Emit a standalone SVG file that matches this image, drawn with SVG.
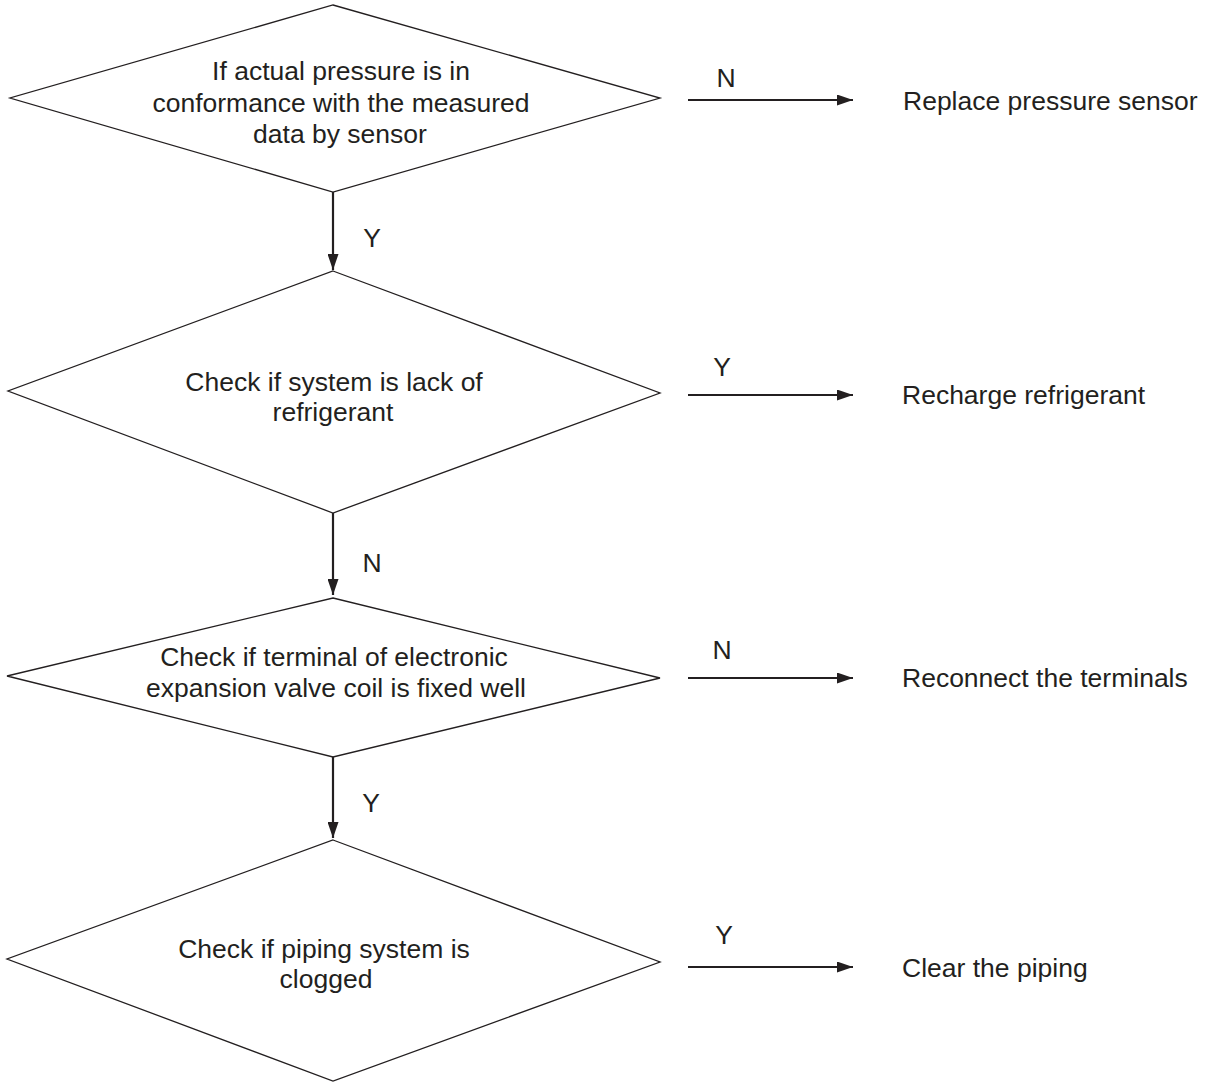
<svg xmlns="http://www.w3.org/2000/svg" width="1208" height="1083" viewBox="0 0 1208 1083">
<defs>
<marker id="ah" viewBox="0 0 16 11" refX="16" refY="5.5" markerWidth="16" markerHeight="11" markerUnits="userSpaceOnUse" orient="auto">
<path d="M0,0 L16,5.5 L0,11 z" fill="#231f20"/>
</marker>
<style>
.d{fill:#fff;stroke:#231f20;stroke-width:1.3}
.t{font-family:"Liberation Sans",Arial,sans-serif;font-size:26.5px;fill:#231f20;text-anchor:middle}
.r{font-family:"Liberation Sans",Arial,sans-serif;font-size:26.5px;fill:#231f20}
.c{stroke:#231f20;stroke-width:2.2;fill:none}
</style>
</defs>
<rect width="1208" height="1083" fill="#fff"/>
<g id="d1">
<polygon class="d" points="333,5 660,98 333,192 10,98"/>
<text class="t" x="341" y="80">If actual pressure is in</text>
<text class="t" x="341" y="112">conformance with the measured</text>
<text class="t" x="340" y="143">data by sensor</text>
</g>
<g id="d2">
<polygon class="d" points="333,271 660,393 333,513 8,391"/>
<text class="t" x="334" y="391">Check if system is lack of</text>
<text class="t" x="333" y="421">refrigerant</text>
</g>
<g id="d3">
<polygon class="d" points="333,598 660,678 333,757 7,676"/>
<text class="t" x="334" y="666">Check if terminal of electronic</text>
<text class="t" x="336" y="697">expansion valve coil is fixed well</text>
</g>
<g id="d4">
<polygon class="d" points="333,840 660,962 333,1081 7,959"/>
<text class="t" x="324" y="958">Check if piping system is</text>
<text class="t" x="326" y="988">clogged</text>
</g>
<g id="r1"><text class="r" x="903" y="110">Replace pressure sensor</text></g>
<g id="r2"><text class="r" x="902" y="404">Recharge refrigerant</text></g>
<g id="r3"><text class="r" x="902" y="687">Reconnect the terminals</text></g>
<g id="r4"><text class="r" x="902" y="977">Clear the piping</text></g>
<g id="connectors">
<line class="c" x1="333" y1="192" x2="333" y2="270" marker-end="url(#ah)"/>
<line class="c" x1="333" y1="513" x2="333" y2="595" marker-end="url(#ah)"/>
<line class="c" x1="333" y1="757" x2="333" y2="838" marker-end="url(#ah)"/>
<line class="c" x1="688" y1="100" x2="853" y2="100" marker-end="url(#ah)"/>
<line class="c" x1="688" y1="395" x2="853" y2="395" marker-end="url(#ah)"/>
<line class="c" x1="688" y1="678" x2="853" y2="678" marker-end="url(#ah)"/>
<line class="c" x1="688" y1="967" x2="853" y2="967" marker-end="url(#ah)"/>
<text class="t" x="372" y="247">Y</text>
<text class="t" x="372" y="572">N</text>
<text class="t" x="371" y="812">Y</text>
<text class="t" x="726" y="87">N</text>
<text class="t" x="722" y="376">Y</text>
<text class="t" x="722" y="659">N</text>
<text class="t" x="724" y="944">Y</text>
</g>
</svg>
